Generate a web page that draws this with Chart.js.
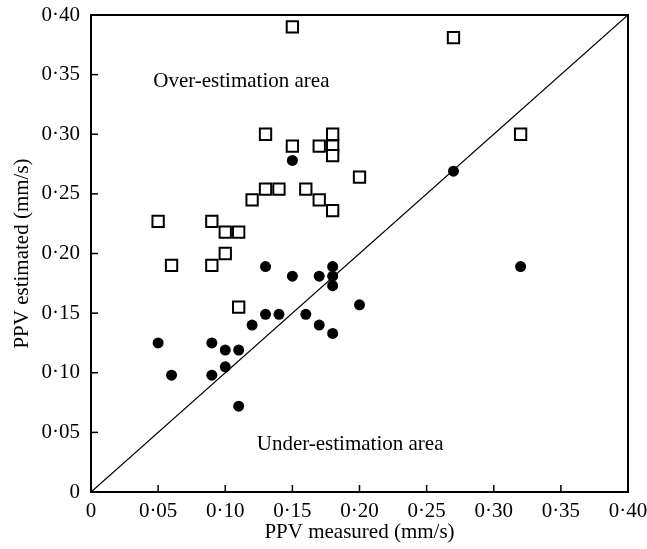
<!DOCTYPE html>
<html>
<head>
<meta charset="utf-8">
<script src="https://cdn.jsdelivr.net/npm/chart.js@4"></script>
<style>
html,body{margin:0;padding:0;background:#fff;}
canvas{display:block;}
</style>
</head>
<body>
<canvas id="c" width="647" height="549"></canvas>
<script>
// PPV measured (x) and estimated (y), mm/s
const overX = [0.15,0.13,0.15,0.17,0.18,0.18,0.18,0.20,0.13,0.14,0.12,0.16,0.17,0.18,0.05,0.09,0.10,0.11,0.06,0.09,0.10,0.11,0.27,0.32];
const overY = [0.390,0.300,0.290,0.290,0.300,0.290,0.282,0.264,0.254,0.254,0.245,0.254,0.245,0.236,0.227,0.227,0.218,0.218,0.190,0.190,0.200,0.155,0.381,0.300];
const circX = [0.15,0.27,0.13,0.15,0.17,0.18,0.18,0.18,0.20,0.12,0.13,0.14,0.16,0.17,0.18,0.05,0.09,0.10,0.11,0.06,0.09,0.10,0.11,0.32];
const circY = [0.278,0.269,0.189,0.181,0.181,0.189,0.181,0.173,0.157,0.140,0.149,0.149,0.149,0.140,0.133,0.125,0.125,0.119,0.119,0.098,0.098,0.105,0.072,0.189];
const lineX = [0, 0.40];
const lineY = [0, 0.40];
const axisMin = 0, axisMax = 0.40, axisStep = 0.05;
const xTitle = 'PPV measured (mm/s)';
const yTitle = 'PPV estimated (mm/s)';
const notes = [
  {text: 'Over-estimation area', x: 0.112, y: 0.344},
  {text: 'Under-estimation area', x: 0.193, y: 0.040}
];

const FONT = "'Liberation Serif', 'Times New Roman', serif";
const toPts = (xs, ys) => xs.map((x, i) => ({x, y: ys[i]}));
const fmt = v => Math.abs(v) < 1e-9 ? '0' : v.toFixed(2).replace('.', '\u00b7');

const framePlugin = {
  id: 'frame',
  afterDraw(chart) {
    const {ctx, chartArea: a, scales} = chart;
    ctx.save();
    ctx.strokeStyle = '#000';
    ctx.lineWidth = 2;
    ctx.strokeRect(a.left, a.top, a.right - a.left, a.bottom - a.top);
    ctx.lineWidth = 1.5;
    const tl = 7;
    scales.x.ticks.forEach(t => {
      const px = scales.x.getPixelForValue(t.value);
      ctx.beginPath(); ctx.moveTo(px, a.bottom); ctx.lineTo(px, a.bottom - tl); ctx.stroke();
    });
    scales.y.ticks.forEach(t => {
      const py = scales.y.getPixelForValue(t.value);
      ctx.beginPath(); ctx.moveTo(a.left, py); ctx.lineTo(a.left + tl, py); ctx.stroke();
    });
    ctx.fillStyle = '#000';
    ctx.font = "21px " + FONT;
    ctx.textAlign = 'center';
    ctx.textBaseline = 'middle';
    notes.forEach(n => {
      ctx.fillText(n.text, scales.x.getPixelForValue(n.x), scales.y.getPixelForValue(n.y));
    });
    ctx.restore();
  }
};

new Chart(document.getElementById('c'), {
  type: 'scatter',
  data: {
    datasets: [
      {
        data: toPts(lineX, lineY),
        showLine: true,
        borderColor: '#000',
        borderWidth: 1.3,
        pointRadius: 0,
        fill: false,
        order: 3
      },
      {
        data: toPts(circX, circY),
        pointStyle: 'circle',
        pointRadius: 5.5,
        backgroundColor: '#000',
        borderColor: '#000',
        borderWidth: 0,
        order: 2
      },
      {
        data: toPts(overX, overY),
        pointStyle: 'rect',
        pointRadius: 8,
        backgroundColor: '#fff',
        borderColor: '#000',
        borderWidth: 2,
        order: 1
      }
    ]
  },
  options: {
    responsive: false,
    animation: false,
    events: [],
    layout: {padding: {left: 0, right: 19, top: 15, bottom: 0}},
    plugins: {legend: {display: false}, tooltip: {enabled: false}},
    scales: {
      x: {
        type: 'linear', min: axisMin, max: axisMax,
        afterFit(s) { s.height = 57; s.paddingLeft = 0; s.paddingRight = 0; },
        border: {display: false},
        grid: {display: false, drawTicks: false},
        ticks: {stepSize: axisStep, color: '#000', padding: 7, font: {family: FONT, size: 21}, callback: v => fmt(v), maxRotation: 0, autoSkip: false},
        title: {display: true, text: xTitle, color: '#000', font: {family: FONT, size: 21}, padding: {top: 0, bottom: 4}}
      },
      y: {
        type: 'linear', min: axisMin, max: axisMax,
        afterFit(s) { s.width = 91; s.paddingTop = 0; s.paddingBottom = 0; },
        border: {display: false},
        grid: {display: false, drawTicks: false},
        ticks: {stepSize: axisStep, color: '#000', padding: 11, font: {family: FONT, size: 21}, callback: v => fmt(v), autoSkip: false},
        title: {display: true, text: yTitle, color: '#000', font: {family: FONT, size: 21}, padding: {top: 10, bottom: 0}}
      }
    }
  },
  plugins: [framePlugin]
});
</script>
</body>
</html>
